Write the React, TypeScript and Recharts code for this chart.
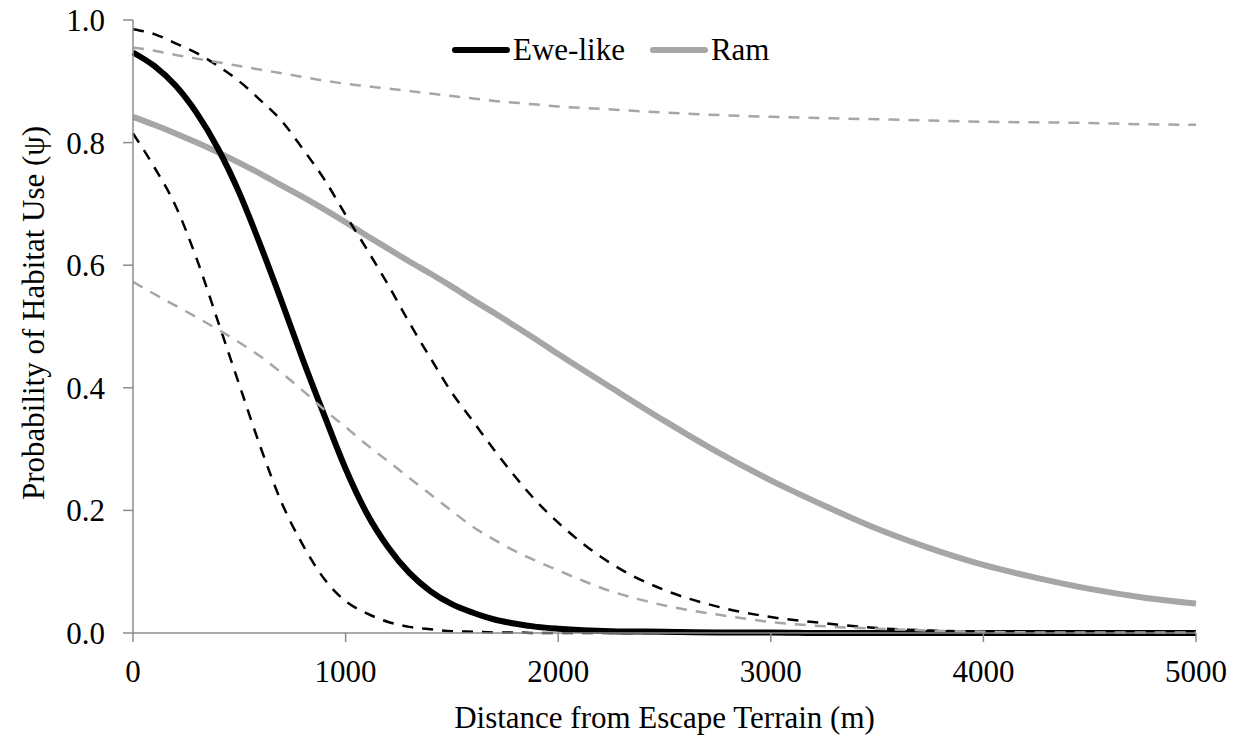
import { LineChart, Line, XAxis, YAxis, Legend } from 'recharts';

// distance from escape terrain (m)
const distances = [
  0, 100, 200, 300, 400, 500, 600, 700, 800, 900, 1000,
  1100, 1200, 1300, 1400, 1500, 1600, 1700, 1800, 1900, 2000,
  2250, 2500, 2750, 3000, 3250, 3500, 3750, 4000, 4250, 4500, 4750, 5000,
];

const ewe = [
  0.947, 0.925, 0.893, 0.848, 0.790, 0.718, 0.632, 0.540, 0.445, 0.355, 0.268,
  0.195, 0.140, 0.098, 0.068, 0.047, 0.033, 0.022, 0.015, 0.010, 0.007,
  0.003, 0.002, 0.001, 0.001, 0, 0, 0, 0, 0, 0, 0, 0,
];
const eweUpper = [
  0.985, 0.977, 0.962, 0.946, 0.925, 0.900, 0.869, 0.835, 0.789, 0.740, 0.682,
  0.626, 0.568, 0.506, 0.448, 0.392, 0.345, 0.298, 0.254, 0.214, 0.180,
  0.113, 0.070, 0.043, 0.026, 0.016, 0.008, 0.004, 0.002, 0.001, 0.001, 0, 0,
];
const eweLower = [
  0.815, 0.760, 0.697, 0.610, 0.508, 0.405, 0.303, 0.212, 0.143, 0.088, 0.052,
  0.032, 0.018, 0.010, 0.006, 0.003, 0.002, 0.001, 0.001, 0, 0,
  0, 0, 0, 0, 0, 0, 0, 0, 0, 0, 0, 0,
];
const ram = [
  0.842, 0.829, 0.815, 0.800, 0.784, 0.767, 0.749, 0.730, 0.711, 0.691, 0.670,
  0.648, 0.627, 0.606, 0.586, 0.565, 0.543, 0.522, 0.500, 0.478, 0.455,
  0.400, 0.346, 0.295, 0.249, 0.208, 0.170, 0.138, 0.111, 0.090, 0.072, 0.058, 0.048,
];
const ramUpper = [
  0.955, 0.950, 0.943, 0.937, 0.931, 0.925, 0.919, 0.913, 0.907, 0.901, 0.896,
  0.892, 0.888, 0.884, 0.880, 0.876, 0.872, 0.868, 0.865, 0.862, 0.859,
  0.854, 0.849, 0.845, 0.842, 0.840, 0.838, 0.836, 0.834, 0.833, 0.832, 0.830, 0.829,
];
const ramLower = [
  0.573, 0.553, 0.534, 0.515, 0.495, 0.474, 0.451, 0.424, 0.395, 0.364, 0.336,
  0.307, 0.280, 0.253, 0.226, 0.199, 0.173, 0.152, 0.133, 0.117, 0.102,
  0.068, 0.045, 0.030, 0.018, 0.011, 0.007, 0.004, 0.002, 0.001, 0.001, 0.001, 0.001,
];

const xTicks = [0, 1000, 2000, 3000, 4000, 5000];
const yTicks = [0, 0.2, 0.4, 0.6, 0.8, 1.0];
const legendOrder = ['Ewe-like', 'Ram'];

const data = distances.map((d, i) => ({
  d,
  ewe: ewe[i],
  eweUpper: eweUpper[i],
  eweLower: eweLower[i],
  ram: ram[i],
  ramUpper: ramUpper[i],
  ramLower: ramLower[i],
}));

const FONT = 'Liberation Serif, Times New Roman, serif';
const AXIS = '#8c8c8c';
const GRAY = '#a6a6a6';
const textStyle = { fontSize: 31, fill: '#000', fontFamily: FONT };

function LegendContent({ payload }: any) {
  const items = (payload || [])
    .filter((p: any) => legendOrder.includes(p.value))
    .sort((a: any, b: any) => legendOrder.indexOf(a.value) - legendOrder.indexOf(b.value));
  return (
    <div style={{ display: 'flex', alignItems: 'center', fontFamily: FONT, fontSize: 31, lineHeight: 1, color: '#000' }}>
      {items.map((p: any, i: number) => (
        <div key={p.value} style={{ display: 'flex', alignItems: 'center', marginLeft: i ? 25 : 0 }}>
          <svg width={58} height={10}>
            <line x1={3} y1={5} x2={55} y2={5} stroke={p.color} strokeWidth={6} strokeLinecap="round" />
          </svg>
          <span style={{ marginLeft: 3, whiteSpace: 'nowrap', fontFamily: FONT }}>{p.value}</span>
        </div>
      ))}
    </div>
  );
}

export default function App() {
  return (
    <div style={{ position: 'absolute', left: 0, top: 0, fontFamily: FONT }}>
      <LineChart width={1238} height={736} data={data} margin={{ top: 20, right: 42, bottom: 0, left: 0 }}
        style={{ fontFamily: FONT }}>
        <XAxis
          type="number"
          dataKey="d"
          domain={[0, 5000]}
          ticks={xTicks}
          interval={0}
          height={103}
          tickSize={9}
          tickMargin={18}
          stroke={AXIS}
          strokeWidth={1.5}
          tick={{ ...textStyle, style: textStyle }}
          label={{ value: 'Distance from Escape Terrain (m)', position: 'insideBottom', offset: 8, style: textStyle }}
        />
        <XAxis xAxisId="top" orientation="top" type="number" dataKey="d" domain={[0, 5000]} height={0}
          tick={false} tickLine={false} stroke={AXIS} strokeWidth={1.5} />
        <YAxis
          type="number"
          domain={[0, 1]}
          ticks={yTicks}
          interval={0}
          width={133}
          tickSize={10}
          tickMargin={18}
          stroke={AXIS}
          strokeWidth={1.5}
          tick={{ ...textStyle, style: textStyle }}
          tickFormatter={(v: number) => v.toFixed(1)}
          label={{
            content: () => (
              <text x={44} y={313} transform="rotate(-90 44 313)" textAnchor="middle" style={textStyle}>
                Probability of Habitat Use (ψ)
              </text>
            ),
          }}
        />
        <YAxis yAxisId="right" orientation="right" type="number" domain={[0, 1]} width={0}
          tick={false} tickLine={false} stroke={AXIS} strokeWidth={1.5} />
        <Legend
          layout="horizontal"
          verticalAlign="middle"
          align="center"
          content={<LegendContent />}
          wrapperStyle={{ left: 452, top: 34, width: 'auto', fontFamily: FONT }}
        />
        <Line type="monotone" dataKey="ram" name="Ram" stroke={GRAY} strokeWidth={6} dot={false} activeDot={false} isAnimationActive={false} />
        <Line type="monotone" dataKey="ewe" name="Ewe-like" stroke="#000" strokeWidth={6} dot={false} activeDot={false} isAnimationActive={false} />
        <Line type="monotone" dataKey="eweUpper" legendType="none" stroke="#000" strokeWidth={2.5} strokeDasharray="11 9" dot={false} activeDot={false} isAnimationActive={false} />
        <Line type="monotone" dataKey="eweLower" legendType="none" stroke="#000" strokeWidth={2.5} strokeDasharray="11 9" dot={false} activeDot={false} isAnimationActive={false} />
        <Line type="monotone" dataKey="ramUpper" legendType="none" stroke={GRAY} strokeWidth={2.5} strokeDasharray="11 9" dot={false} activeDot={false} isAnimationActive={false} />
        <Line type="monotone" dataKey="ramLower" legendType="none" stroke={GRAY} strokeWidth={2.5} strokeDasharray="11 9" dot={false} activeDot={false} isAnimationActive={false} />
      </LineChart>
    </div>
  );
}
